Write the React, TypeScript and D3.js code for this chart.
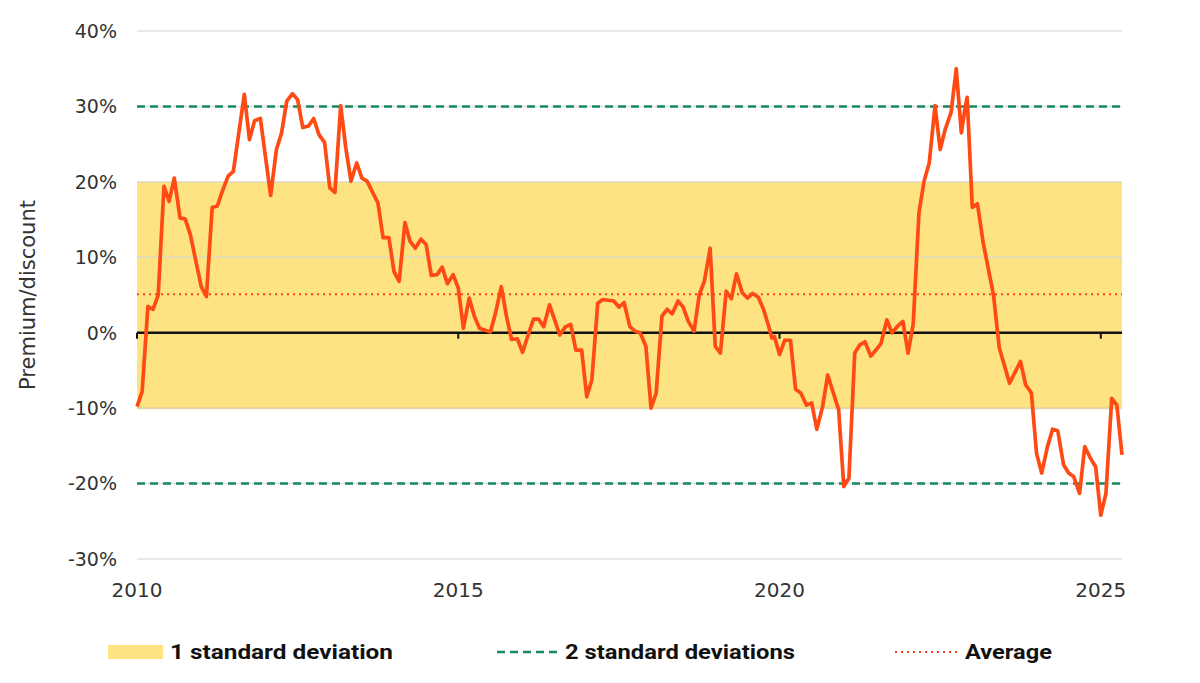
import React from "react";
import * as d3 from "d3";

const width = 1200;
const height = 683;

// premium/discount (%), [year, value]
const years = [
  2010.0, 2010.08, 2010.17, 2010.25, 2010.33, 2010.42, 2010.5, 2010.58, 2010.67, 2010.75, 2010.83,
  2011.0, 2011.08, 2011.17, 2011.25, 2011.33, 2011.42, 2011.5, 2011.67, 2011.75, 2011.83, 2011.92,
  2012.08, 2012.17, 2012.25, 2012.33, 2012.42, 2012.5, 2012.58, 2012.67, 2012.75, 2012.83, 2012.92,
  2013.0, 2013.08, 2013.17, 2013.25, 2013.33, 2013.42, 2013.5, 2013.58, 2013.75, 2013.83, 2013.92,
  2014.0, 2014.08, 2014.17, 2014.25, 2014.33, 2014.42, 2014.5, 2014.58, 2014.67, 2014.75, 2014.83, 2014.92,
  2015.0, 2015.08, 2015.17, 2015.25, 2015.33, 2015.5, 2015.58, 2015.67, 2015.75, 2015.83, 2015.92,
  2016.0, 2016.08, 2016.17, 2016.25, 2016.33, 2016.42, 2016.5, 2016.58, 2016.67, 2016.75, 2016.83, 2016.92,
  2017.0, 2017.08, 2017.17, 2017.25, 2017.42, 2017.5, 2017.58, 2017.67, 2017.75, 2017.83, 2017.92,
  2018.0, 2018.08, 2018.17, 2018.25, 2018.33, 2018.42, 2018.5, 2018.58, 2018.67, 2018.75, 2018.83, 2018.92,
  2019.0, 2019.08, 2019.17, 2019.25, 2019.33, 2019.42, 2019.5, 2019.58, 2019.67, 2019.75, 2019.83, 2019.88, 2019.92,
  2020.0, 2020.08, 2020.17, 2020.25, 2020.33, 2020.42, 2020.5, 2020.58, 2020.67, 2020.75, 2020.83, 2020.92,
  2021.0, 2021.08, 2021.17, 2021.25, 2021.33, 2021.42, 2021.5, 2021.58, 2021.67, 2021.75, 2021.83, 2021.92,
  2022.0, 2022.08, 2022.17, 2022.25, 2022.33, 2022.42, 2022.5, 2022.58, 2022.67, 2022.75, 2022.83, 2022.88, 2022.92,
  2023.0, 2023.08, 2023.17, 2023.33, 2023.42, 2023.58, 2023.75, 2023.83, 2023.92,
  2024.0, 2024.08, 2024.17, 2024.25, 2024.33, 2024.42, 2024.5, 2024.58, 2024.67, 2024.75, 2024.83, 2024.92,
  2025.0, 2025.08, 2025.17, 2025.25, 2025.33,
];
const premium = [
  -9.8, -7.8, 3.5, 3.1, 5.0, 19.4, 17.4, 20.5, 15.2, 15.1, 13.0,
  6.1, 4.8, 16.6, 16.8, 18.8, 20.8, 21.4, 31.6, 25.6, 28.1, 28.4,
  18.2, 24.3, 26.5, 30.7, 31.7, 30.9, 27.2, 27.4, 28.4, 26.3, 25.2,
  19.2, 18.6, 30.1, 24.5, 20.1, 22.5, 20.5, 20.1, 17.2, 12.6, 12.6,
  8.1, 6.8, 14.6, 12.1, 11.2, 12.4, 11.7, 7.6, 7.7, 8.7, 6.5, 7.7,
  5.9, 0.6, 4.6, 2.2, 0.6, 0.1, 2.6, 6.1, 2.2, -0.9, -0.8,
  -2.6, -0.5, 1.8, 1.8, 0.8, 3.7, 1.7, -0.3, 0.8, 1.1, -2.3, -2.3,
  -8.5, -6.2, 3.9, 4.4, 4.2, 3.4, 4.0, 0.8, 0.2, 0.0, -1.8,
  -10.0, -8.0, 2.2, 3.1, 2.5, 4.2, 3.4, 1.5, 0.2, 5.0, 6.8, 11.2,
  -1.8, -2.7, 5.5, 4.5, 7.8, 5.3, 4.6, 5.2, 4.7, 3.1, 0.9, -0.7, -0.5,
  -2.9, -1.0, -1.0, -7.5, -8.0, -9.6, -9.3, -12.8, -9.8, -5.6, -7.8, -10.2,
  -20.4, -19.3, -2.7, -1.6, -1.2, -3.1, -2.3, -1.4, 1.7, 0.0, 0.8, 1.5,
  -2.7, 1.1, 15.9, 20.1, 22.5, 30.1, 24.3, 27.0, 29.2, 35.0, 26.5, 29.4, 31.2,
  16.6, 17.1, 11.9, 5.0, -2.0, -6.7, -3.8, -6.9, -8.0,
  -16.0, -18.6, -15.1, -12.8, -13.0, -17.5, -18.6, -19.1, -21.3, -15.1, -16.5, -17.8,
  -24.2, -21.3, -8.7, -9.6, -16.2,
];

const yTicks = [40, 30, 20, 10, 0, -10, -20, -30];
const xTicks = [2010, 2015, 2020, 2025];
const oneSd = [-10, 20];
const twoSd = [-20, 30];
const average = 5.1;

const colors = {
  band: "#fee382",
  line: "#ff4a14",
  green: "#158a5b",
  red: "#ff3b22",
  grid: "#d8d8dd",
  text: "#333",
};

export default function App() {
  const x = d3.scaleLinear().domain([2010, 2025.33]).range([137, 1122]);
  const y = d3.scaleLinear().domain([-30, 40]).range([559, 31]);
  const [x0, x1] = x.range();

  const points: [number, number][] = years.map((yr, i) => [yr, premium[i]]);
  const line = d3
    .line<[number, number]>()
    .x((d) => x(d[0]))
    .y((d) => y(d[1]))
    .curve(d3.curveLinear);

  const axisFont = "'DejaVu Sans', sans-serif";
  const legendFont = "Roboto, 'DejaVu Sans', sans-serif";

  return (
    <svg width={width} height={height} style={{ display: "block", margin: "-8px" }}>
      <rect width={width} height={height} fill="#fff" />

      {/* 1 sd band */}
      <rect x={x0} y={y(oneSd[1])} width={x1 - x0} height={y(oneSd[0]) - y(oneSd[1])} fill={colors.band} />
      <line x1={x0} x2={x1} y1={y(oneSd[0])} y2={y(oneSd[0])} stroke="#f8d65e" strokeWidth={2} />

      {/* grid */}
      {yTicks.filter((t) => t !== 0).map((t) => (
        <line key={t} x1={x0} x2={x1} y1={y(t)} y2={y(t)} stroke={colors.grid} strokeWidth={1.5} opacity={0.75} />
      ))}

      {/* y labels */}
      {yTicks.map((t) => (
        <text key={t} x={117} y={y(t)} dy="0.36em" textAnchor="end" fontFamily={axisFont} fontSize={19} fill={colors.text}>
          {t}%
        </text>
      ))}
      <text
        transform={`translate(35,${y(5)}) rotate(-90)`}
        textAnchor="middle"
        fontFamily={axisFont}
        fontSize={21}
        fill={colors.text}
      >
        Premium/discount
      </text>

      {/* 2 sd lines */}
      {twoSd.map((v) => (
        <line key={v} x1={x0} x2={x1} y1={y(v)} y2={y(v)} stroke={colors.green} strokeWidth={2.5} strokeDasharray="8 5" />
      ))}
      {/* average */}
      <line x1={x0} x2={x1} y1={y(average)} y2={y(average)} stroke={colors.red} strokeWidth={2} strokeDasharray="2 4" />

      {/* zero axis */}
      <line x1={x0} x2={x1} y1={y(0)} y2={y(0)} stroke="#111" strokeWidth={2.5} />
      {xTicks.map((t) => (
        <g key={t}>
          <line x1={x(t)} x2={x(t)} y1={y(0)} y2={y(0) + 6} stroke="#111" strokeWidth={2} />
          <text x={x(t)} y={597} textAnchor="middle" fontFamily={axisFont} fontSize={20} fill={colors.text}>
            {t}
          </text>
        </g>
      ))}

      {/* series */}
      <path d={line(points) ?? ""} fill="none" stroke={colors.line} strokeWidth={3.7} strokeLinejoin="round" />

      {/* legend */}
      <g fontFamily={legendFont} fontWeight="bold" fontSize={20} fill="#111">
        <rect x={108} y={645} width={55} height={14} fill={colors.band} />
        <text x={170} y={659} textLength={223} lengthAdjust="spacingAndGlyphs">1 standard deviation</text>
        <line x1={497} x2={560} y1={652} y2={652} stroke={colors.green} strokeWidth={2.5} strokeDasharray="8 5" />
        <text x={565} y={659} textLength={230} lengthAdjust="spacingAndGlyphs">2 standard deviations</text>
        <line x1={895} x2={958} y1={652} y2={652} stroke={colors.red} strokeWidth={2} strokeDasharray="2 4" />
        <text x={965} y={659} textLength={87} lengthAdjust="spacingAndGlyphs">Average</text>
      </g>
    </svg>
  );
}
